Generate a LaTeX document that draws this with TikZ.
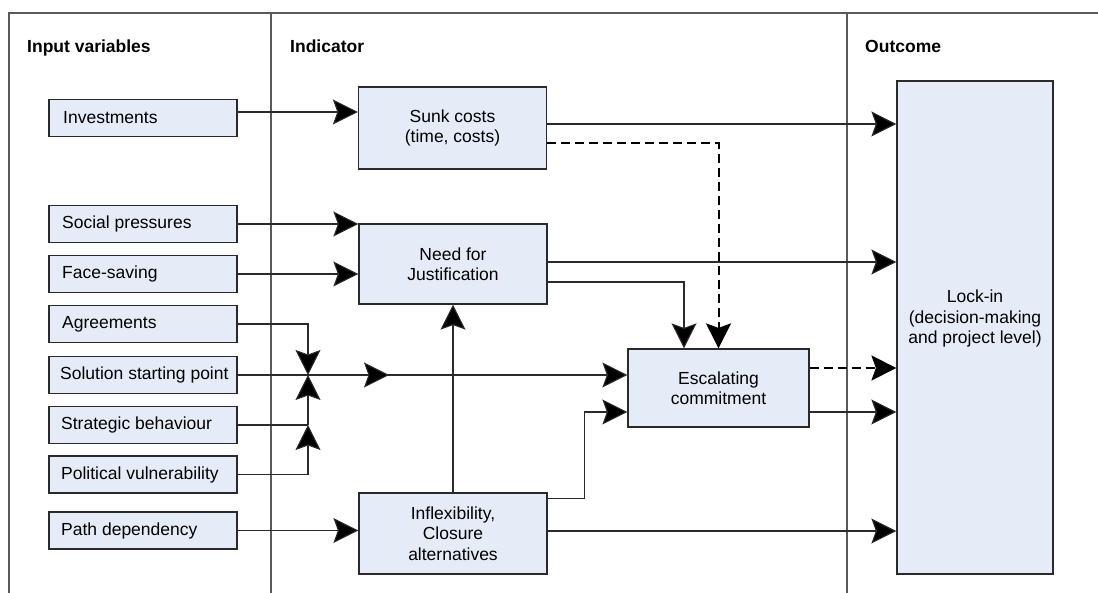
\documentclass[tikz,border=0pt]{standalone}
\usepackage{fontspec}
\setmainfont{Liberation Sans}
\usetikzlibrary{arrows.meta,calc}
\definecolor{boxfill}{HTML}{E6ECF7}
\definecolor{frameline}{HTML}{5A5A5A}
\definecolor{conline}{HTML}{2A2A2A}
\begin{document}
\begin{tikzpicture}[x=1pt,y=-1pt,
  font=\fontsize{17.5}{20.5}\selectfont,
  frame/.style={draw=frameline,line width=1.4pt},
  header/.style={anchor=base west,inner sep=0pt,font=\fontsize{17.5}{20.5}\selectfont\bfseries},
  inbox/.style={draw=conline,fill=boxfill,line width=1.2pt,minimum width=188pt,minimum height=37pt,inner sep=0pt},
  intext/.style={anchor=west,inner sep=0pt},
  indbox/.style={draw=conline,fill=boxfill,line width=1.2pt,minimum width=188pt,inner sep=0pt,align=center},
  arr/.style={draw=conline,line width=1.1pt,-{Stealth[length=25pt,width=25pt,inset=4.5pt,fill=black]}},
  plain/.style={draw=conline,line width=1.1pt},
  dashline/.style={draw=black,line width=2pt,dash pattern=on 9pt off 5pt},
  dasharr/.style={dashline,-{Stealth[length=25pt,width=25pt,inset=4.5pt,fill=black]}}
]
\useasboundingbox (0,0) rectangle (1098,593);
% frame
\draw[frame] (9,593) -- (9,13) -- (1098,13);
\draw[frame] (271,13) -- (271,593);
\draw[frame] (847,13) -- (847,593);
% headers
\node[header] (h1) at (27,53) {Input variables};
\node[header] (h2) at (290,53) {Indicator};
\node[header] (h3) at (865,53) {Outcome};
% input boxes
\node[inbox] (inv)  at (143,118)   {};
\node[inbox] (soc)  at (143,224)   {};
\node[inbox] (face) at (143,274)   {};
\node[inbox] (agr)  at (143,324)   {};
\node[inbox] (sol)  at (143,375)   {};
\node[inbox] (str)  at (143,425)   {};
\node[inbox] (pol)  at (143,474.5) {};
\node[inbox] (path) at (143,530.5) {};
\node[intext] (tinv)  at (63,118)   {Investments};
\node[intext] (tsoc)  at (62,224)   {Social pressures};
\node[intext] (tface) at (62,274)   {Face-saving};
\node[intext] (tagr)  at (62,324)   {Agreements};
\node[intext] (tsol)  at (60,375)   {Solution starting point};
\node[intext] (tstr)  at (61,425)   {Strategic behaviour};
\node[intext] (tpol)  at (61,474.5) {Political vulnerability};
\node[intext] (tpath) at (61,530.5) {Path dependency};
% indicator boxes
\node[indbox,minimum height=82pt] (sunk) at (452.5,128) {Sunk costs\\(time, costs)};
\node[indbox,minimum height=80pt] (need) at (453,264) {Need for\\Justification};
\node[indbox,minimum height=81pt] (infl) at (453,533.5) {Inflexibility,\\Closure\\alternatives};
\node[indbox,minimum width=181pt,minimum height=78pt] (esc) at (718.5,388) {Escalating\\commitment};
% outcome box
\node[indbox,minimum width=156pt,minimum height=493pt] (lock) at (975,327.5) {};
\node[align=center,inner sep=0pt] (locktxt) at (975,318.5) {Lock-in\\(decision-making\\and project level)};
% junction coordinates
\coordinate (j1) at (308,375);
\coordinate (j2) at (308,425);
\coordinate (m1) at (389,375);
\coordinate (invout) at ([yshift=6pt]inv.east);
\coordinate (s1) at ([yshift=4pt]sunk.east);
\coordinate (s2) at ([yshift=-15pt]sunk.east);
\coordinate (n1) at ([yshift=2pt]need.east);
\coordinate (n2) at ([yshift=-18pt]need.east);
\coordinate (i1) at ([yshift=-6pt]infl.north east);
\coordinate (i2) at ([yshift=2.5pt]infl.east);
\coordinate (e1) at ([yshift=13pt]esc.west);
\coordinate (e2) at ([yshift=-24pt]esc.west);
\coordinate (o1) at ([yshift=20pt]esc.east);
\coordinate (o2) at ([yshift=-24pt]esc.east);
% connectors: inputs
\draw[arr] (invout) -- (invout -| sunk.west);
\draw[arr] (soc.east) -- (soc.east -| need.west);
\draw[arr] (face.east) -- (face.east -| need.west);
\draw[arr] (agr.east) -| (j1);
\draw[arr] (sol.east) -- (e1);
\draw[arr] (j1) -- (m1);
\draw[plain] (str.east) -- (j2);
\draw[arr] (j2) -- (j1);
\draw[arr] (pol.east) -| (j2);
\draw[arr] (path.east) -- (path.east -| infl.west);
% indicator connectors
\draw[arr] (s1) -- (s1 -| lock.west);
\draw[dasharr] (s2) -| (esc.north);
\draw[arr] (n1) -- (n1 -| lock.west);
\draw[arr] (n2) -| ([xshift=-34.5pt]esc.north);
\draw[arr] (infl.north) -- (need.south);
\draw[arr] (i1) -| ([xshift=-43pt]e2) -- (e2);
\draw[arr] (i2) -- (i2 -| lock.west);
\draw[dasharr] (o1) -- (o1 -| lock.west);
\draw[arr] (o2) -- (o2 -| lock.west);
\end{tikzpicture}
\end{document}
